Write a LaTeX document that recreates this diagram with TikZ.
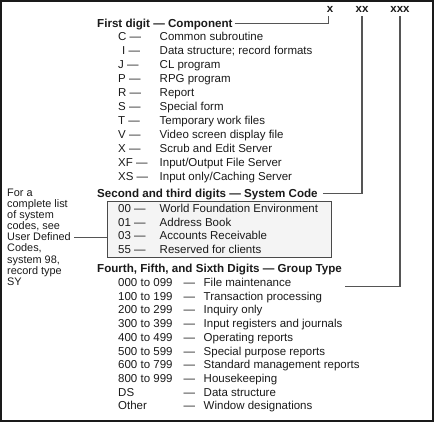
\documentclass[tikz,border=0pt]{standalone}
\usepackage{fontspec}
\setmainfont{Liberation Sans}
\begin{document}
\begin{tikzpicture}[x=1pt,y=-1pt,
  txt/.style={anchor=west, inner sep=0pt, text height=8pt, text depth=0pt, text=ink, font=\fontsize{11.5}{13}\selectfont},
  hd/.style={txt, font=\fontsize{11.6}{13}\selectfont\bfseries},
  note/.style={anchor=west, inner sep=0pt, text height=7.5pt, text depth=0pt, text=ink, font=\fontsize{10.9}{11}\selectfont},
  digit/.style={anchor=center, inner sep=0pt, text height=6pt, text depth=0pt, text=ink, font=\fontsize{11.5}{13}\selectfont\bfseries},
  conn/.style={draw=linec, line width=1.1pt},
  codebox/.style={draw=boxc, line width=1.1pt, fill=boxfill, anchor=north west, inner sep=0pt, minimum width=223.4pt, minimum height=56pt}
]
\definecolor{ink}{HTML}{1A1A1A}
\definecolor{linec}{HTML}{555555}
\definecolor{boxc}{HTML}{4A4A4A}
\definecolor{boxfill}{HTML}{F4F4F4}
\useasboundingbox (0,0) rectangle (434,422);
\draw[line width=2pt, draw=ink] (1,1) rectangle (433,421);

% digit labels
\node[digit] (dx) at (330,10) {x};
\node[digit] (dxx) at (362,10) {xx};
\node[digit] (dxxx) at (400,10) {xxx};

% section 1
\node[hd] (h1) at (97,23.3) {First digit --- Component};
\node[txt] (c1) at (118,36.7) {C ---};        \node[txt] (d1) at (159.5,36.7) {Common subroutine};
\node[txt] (c2) at (122,50.7) {I ---};        \node[txt] (d2) at (159.5,50.7) {Data structure; record formats};
\node[txt] (c3) at (118,64.7) {J ---};        \node[txt] (d3) at (159.5,64.7) {CL program};
\node[txt] (c4) at (118,78.7) {P ---};        \node[txt] (d4) at (159.5,78.7) {RPG program};
\node[txt] (c5) at (118,92.7) {R ---};        \node[txt] (d5) at (159.5,92.7) {Report};
\node[txt] (c6) at (118,106.7) {S ---};       \node[txt] (d6) at (159.5,106.7) {Special form};
\node[txt] (c7) at (118,120.7) {T ---};       \node[txt] (d7) at (159.5,120.7) {Temporary work files};
\node[txt] (c8) at (118,134.7) {V ---};       \node[txt] (d8) at (159.5,134.7) {Video screen display file};
\node[txt] (c9) at (118,148.5) {X ---};       \node[txt] (d9) at (159.5,148.5) {Scrub and Edit Server};
\node[txt] (c10) at (118,162.5) {XF ---};     \node[txt] (d10) at (159.5,162.5) {Input/Output File Server};
\node[txt] (c11) at (118,176.2) {XS ---};     \node[txt] (d11) at (159.5,176.2) {Input only/Caching Server};

% section 2
\node[hd] (h2) at (97,193.3) {Second and third digits --- System Code};
\node[codebox] (box) at (107.3,200.7) {};
\node[txt] (s1) at (118,208.3) {00 ---};      \node[txt] (t1) at (159.5,208.3) {World Foundation Environment};
\node[txt] (s2) at (118,222.3) {01 ---};      \node[txt] (t2) at (159.5,222.3) {Address Book};
\node[txt] (s3) at (118,236.0) {03 ---};      \node[txt] (t3) at (159.5,236.0) {Accounts Receivable};
\node[txt] (s4) at (118,249.7) {55 ---};      \node[txt] (t4) at (159.5,249.7) {Reserved for clients};

% note
\node[note] (n1) at (7,192.7) {For a};
\node[note] (n2) at (7,203.8) {complete list};
\node[note] (n3) at (7,214.9) {of system};
\node[note] (n4) at (7,226.0) {codes, see};
\node[note] (n5) at (7,237.1) {User Defined};
\node[note] (n6) at (7,248.2) {Codes,};
\node[note] (n7) at (7,259.3) {system 98,};
\node[note] (n8) at (7,270.4) {record type};
\node[note] (n9) at (7,281.5) {SY};

% section 3
\node[hd] (h3) at (97,268.3) {Fourth, Fifth, and Sixth Digits --- Group Type};
\foreach \i/\code/\desc in {0/000 to 099/File maintenance, 1/100 to 199/Transaction processing, 2/200 to 299/Inquiry only, 3/300 to 399/Input registers and journals, 4/400 to 499/Operating reports, 5/500 to 599/Special purpose reports, 6/600 to 799/Standard management reports, 7/800 to 999/Housekeeping, 8/DS/Data structure, 9/Other/Window designations}{
  \node[txt] (g\i) at (118,282.3+13.74*\i) {\code};
  \node[txt] (gd\i) at (183.5,282.3+13.74*\i) {---};
  \node[txt] (gt\i) at (203.5,282.3+13.74*\i) {\desc};
}

% connectors
\coordinate (e3) at (345,286.7);
\draw[conn] ([xshift=2pt]h1.east) -| ([xshift=-1.5pt,yshift=-2.5pt]dx.south);
\draw[conn] ([xshift=5pt]h2.east) -| ([yshift=-2.5pt]dxx.south);
\draw[conn] (e3) -| ([yshift=-2.5pt]dxxx.south);
\draw[conn] ([xshift=3pt]n5.east) -- (box.west |- n5.east);
\end{tikzpicture}
\end{document}
